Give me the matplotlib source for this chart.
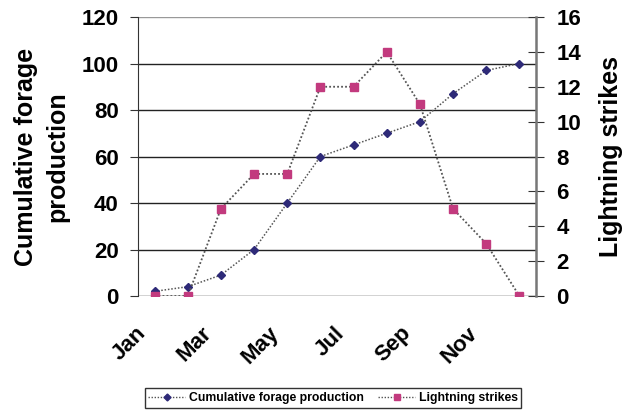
import matplotlib
matplotlib.use("Agg")
import matplotlib.pyplot as plt
import matplotlib.transforms as mtransforms
from matplotlib.lines import Line2D

months = ["Jan", "Feb", "Mar", "Apr", "May", "Jun", "Jul", "Aug", "Sep", "Oct", "Nov", "Dec"]
forage = [2, 4, 9, 20, 40, 60, 65, 70, 75, 87, 97, 100]
lightning = [0, 0, 5, 7, 7, 12, 12, 14, 11, 5, 3, 0]
left_ticks = [0, 20, 40, 60, 80, 100, 120]
right_ticks = [0, 2, 4, 6, 8, 10, 12, 14, 16]

plt.rcParams['font.family'] = ['Liberation Sans', 'DejaVu Sans']
plt.rcParams['font.weight'] = 'bold'

fig = plt.figure(figsize=(6.23, 4.16), dpi=100)
ax = fig.add_axes([138/623, 1-296/416, (536-138)/623, (296-17)/416])
ax2 = ax.twinx()

x = list(range(len(months)))
navy = '#2E2A78'
mag = '#C23A7E'
ax.plot(x, forage, linestyle=(0, (1, 1.2)), color='#555555', lw=1.1,
        marker='D', markersize=4.5, markerfacecolor=navy, markeredgecolor=navy, zorder=3)
ax2.plot(x, lightning, linestyle=(0, (1, 1.2)), color='#555555', lw=1.3,
         marker='s', markersize=5.5, markerfacecolor=mag, markeredgecolor=mag, zorder=3)

ax.set_xlim(-0.5, 11.5)
ax.set_ylim(0, 120)
ax2.set_ylim(0, 16)
ax.set_yticks(left_ticks)
ax2.set_yticks(right_ticks)
ax.yaxis.grid(True, color='#222222', lw=1)
ax.get_ygridlines()[-1].set_color('#999999')
ax.set_axisbelow(True)

ax.set_xticks(x[::2])
ax.set_xticklabels(months[::2], rotation=45, ha='right', va='center', rotation_mode='anchor',
                   fontsize=16, fontweight='bold')
ax.tick_params(axis='x', length=0, pad=0)
offset = mtransforms.ScaledTranslation(-12/100, -34/100, fig.dpi_scale_trans)
for lbl in ax.get_xticklabels():
    lbl.set_transform(lbl.get_transform() + offset)

ax.tick_params(axis='y', labelsize=16, length=6, direction='out', color='#333333', pad=8)
ax2.tick_params(axis='y', labelsize=16, length=11, direction='inout', color='#333333', pad=9)
for t in ax.get_yticklabels() + ax2.get_yticklabels():
    t.set_fontweight('bold')

for sp in ['top', 'bottom']:
    ax.spines[sp].set_visible(False)
    ax2.spines[sp].set_visible(False)
ax.spines['left'].set_color('#333333')
ax2.spines['left'].set_visible(False)
ax2.spines['right'].set_color('#777777')
ax2.spines['right'].set_linewidth(1.8)
ax.spines['right'].set_visible(False)

ax.set_ylabel("Cumulative forage\nproduction", fontsize=18, fontweight='bold', labelpad=9, linespacing=1.38)
ax2.set_ylabel("Lightning strikes", fontsize=18, fontweight='bold', labelpad=13)

handles = [
    Line2D([], [], linestyle=(0, (1, 1.2)), color='#555555', lw=1, marker='D', markersize=3.5,
           markerfacecolor=navy, markeredgecolor=navy),
    Line2D([], [], linestyle=(0, (1, 1.2)), color='#555555', lw=1, marker='s', markersize=4,
           markerfacecolor=mag, markeredgecolor=mag),
]
leg = fig.legend(handles, ["Cumulative forage production", "Lightning strikes"],
                 loc='center', bbox_to_anchor=(333/623, 1-398/416), ncol=2, frameon=True,
                 fancybox=False, edgecolor='black', prop={'size': 8.8, 'weight': 'bold'},
                 handlelength=3, columnspacing=1.2, borderpad=0.3, handletextpad=0.3)
leg.get_frame().set_linewidth(1)

fig.savefig("out.png", dpi=100)
